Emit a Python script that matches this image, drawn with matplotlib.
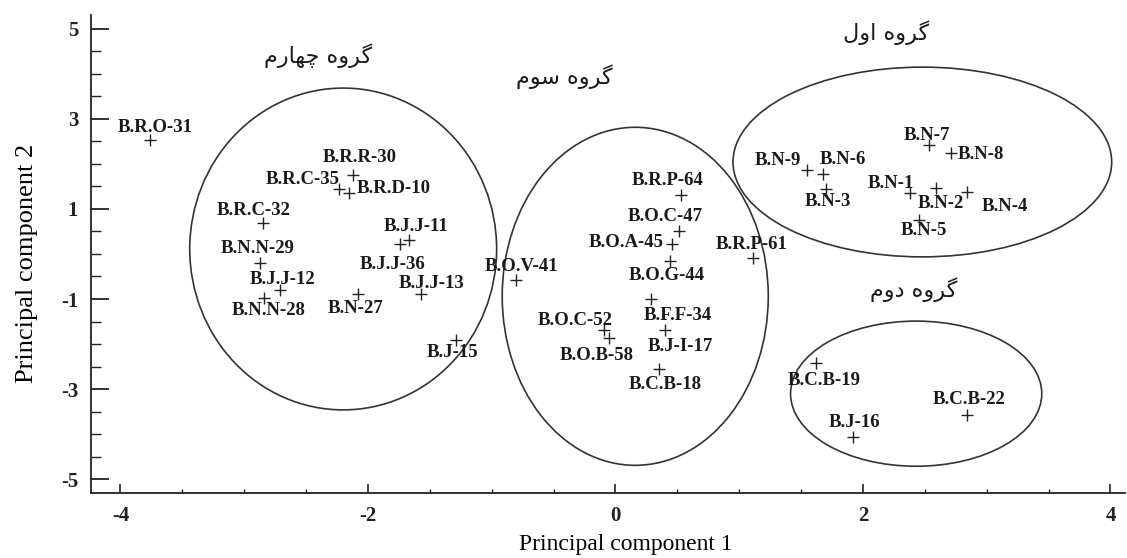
import matplotlib
matplotlib.use("Agg")
import matplotlib.pyplot as plt
from matplotlib.patches import Ellipse
from matplotlib.ticker import MultipleLocator

plt.rcParams["axes.unicode_minus"] = False

# ── data ───────────────────────────────────────────────────────────
names = [
    "B.R.O-31", "B.R.R-30", "B.R.C-35", "B.R.D-10", "B.R.C-32", "B.J.J-11",
    "B.N.N-29", "B.J.J-36", "B.J.J-12", "B.N.N-28", "B.N-27", "B.J.J-13",
    "B.J-15", "B.O.V-41", "B.R.P-64", "B.O.C-47", "B.O.A-45", "B.O.G-44",
    "B.R.P-61", "B.F.F-34", "B.J-I-17", "B.O.C-52", "B.O.B-58", "B.C.B-18",
    "B.N-7", "B.N-8", "B.N-9", "B.N-6", "B.N-3", "B.N-1", "B.N-2", "B.N-4",
    "B.N-5", "B.C.B-19", "B.J-16", "B.C.B-22",
]
pc1 = [
    -3.76, -2.12, -2.23, -2.15, -2.85, -1.67,
    -2.87, -1.74, -2.71, -2.84, -2.08, -1.57,
    -1.29, -0.80, 0.53, 0.51, 0.46, 0.44,
    1.11, 0.29, 0.40, -0.09, -0.05, 0.35,
    2.53, 2.71, 1.55, 1.68, 1.70, 2.38, 2.59, 2.84,
    2.45, 1.62, 1.92, 2.84,
]
pc2 = [
    2.52, 1.76, 1.43, 1.36, 0.69, 0.31,
    -0.21, 0.21, -0.80, -0.97, -0.88, -0.88,
    -1.91, -0.58, 1.30, 0.51, 0.22, -0.16,
    -0.08, -1.01, -1.69, -1.69, -1.87, -2.56,
    2.41, 2.24, 1.86, 1.78, 1.45, 1.36, 1.47, 1.38,
    0.75, -2.41, -4.07, -3.57,
]

# cluster ellipses: centre, width, height (data units)
group_cx = [-2.20, 0.16, 2.48, 2.43]
group_cy = [0.11, -0.94, 2.04, -3.10]
group_w = [2.48, 2.15, 3.06, 2.03]
group_h = [7.14, 7.50, 4.21, 3.22]

# group titles, pre-shaped Persian in visual order
gorooh = "\uFEE9\uFEED\uFEAE\uFB94"
group_names = [
    "\uFEE1\uFEAD\uFE8E\uFEEC\uFB7C " + gorooh,   # گروه چهارم
    "\uFEE1\uFEEE\uFEB3 " + gorooh,               # گروه سوم
    "\uFEDD\uFEED\uFE8D " + gorooh,               # گروه اول
    "\uFEE1\uFEED\uFEA9 " + gorooh,               # گروه دوم
]

# ── layout (kept apart from the data) ─────────────────────────────
# label centre offset from its marker, in image pixels (dx right, dy down)
label_offsets = [
    (5, -13), (7, -17), (-37, -10), (44, -4), (-9, -12), (7, -13),
    (-3, -15), (-8, 20), (2, -11), (5, 13), (-2, 15), (10, -10),
    (-3, 12), (5, -14), (-13, -15), (-13, -14), (-46, -2), (-3, 14),
    (-1, -13), (26, 16), (15, 16), (-29, -10), (-13, 17), (6, 15),
    (-2, -10), (30, 2), (-29, -10), (20, -14), (2, 13), (-19, -9),
    (5, 16), (38, 15), (5, 10), (8, 18), (1, -15), (2, -15),
]
title_pos = [(-2.40, 4.41), (-0.41, 3.94), (2.19, 4.92), (2.41, -0.80)]

SERIF = "Liberation Serif"

fig = plt.figure(figsize=(11.27, 5.58), dpi=100)
ax = fig.add_axes([0.0805, 0.116, 0.918, 0.857])

ax.plot(pc1, pc2, linestyle="none", marker="+", color="#222222",
        markersize=8, markeredgewidth=1.0)

for name, x, y, (dx, dy) in zip(names, pc1, pc2, label_offsets):
    ax.annotate(name, (x, y), xytext=(dx, -dy), textcoords="offset pixels",
                ha="center", va="center", fontsize=13.5, fontweight="bold",
                family=SERIF, color="#1a1a1a")

for cx, cy, w, h in zip(group_cx, group_cy, group_w, group_h):
    ax.add_patch(Ellipse((cx, cy), w, h, fill=False, edgecolor="#333333",
                         linewidth=1.2))

for txt, (tx, ty) in zip(group_names, title_pos):
    ax.text(tx, ty, txt, ha="center", va="center", fontsize=16,
            family=["DejaVu Sans"], color="#1a1a1a")

ax.set_xlim(-4.24, 4.12)
ax.set_ylim(-5.31, 5.30)
ax.xaxis.set_minor_locator(MultipleLocator(0.5))
ax.yaxis.set_minor_locator(MultipleLocator(0.5))
ax.set_xticks([-4, -2, 0, 2, 4])
ax.set_yticks([-5, -3, -1, 1, 3, 5])

for s in ("top", "right"):
    ax.spines[s].set_visible(False)
for s in ("left", "bottom"):
    ax.spines[s].set_linewidth(1.3)
    ax.spines[s].set_color("#222222")

ax.tick_params(axis="y", which="major", direction="in", length=13, width=1.3,
               pad=9, colors="#222222")
ax.tick_params(axis="y", which="minor", direction="in", length=7, width=1.0,
               colors="#222222")
ax.tick_params(axis="x", which="major", direction="in", length=6.5, width=1.2,
               pad=9, colors="#222222")
ax.tick_params(axis="x", which="minor", direction="in", length=3, width=1.0,
               colors="#222222")
for lbl in ax.get_xticklabels() + ax.get_yticklabels():
    lbl.set_fontfamily(SERIF)
    lbl.set_fontweight("bold")
    lbl.set_fontsize(15)

ax.set_xlabel("Principal component 1", fontsize=17, family=SERIF)
ax.set_ylabel("Principal component 2", fontsize=19, family=SERIF)
ax.xaxis.set_label_coords(0.517, -0.085)
ax.yaxis.set_label_coords(-0.051, 0.48)

fig.savefig("out.png", dpi=100)
